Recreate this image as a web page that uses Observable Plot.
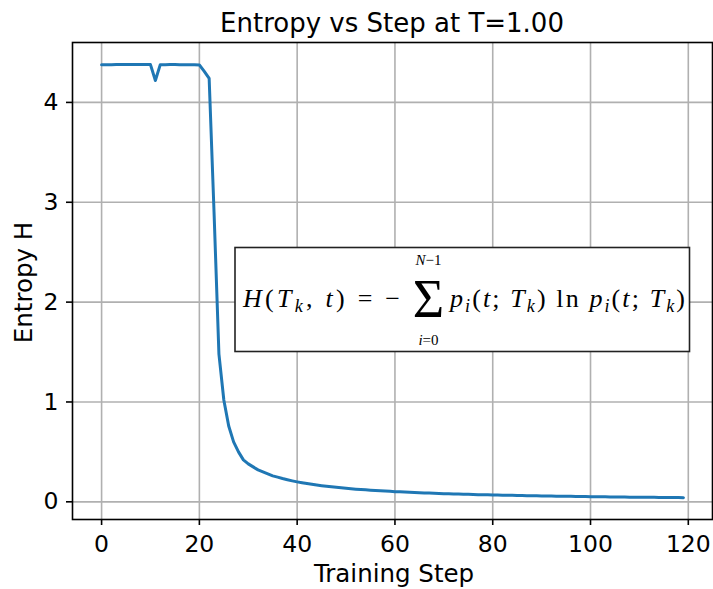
<!DOCTYPE html>
<html>
<head>
<meta charset="utf-8">
<script src="https://cdn.jsdelivr.net/npm/d3@7"></script>
<script src="https://cdn.jsdelivr.net/npm/@observablehq/plot@0.6"></script>
<style>
  html, body { margin: 0; padding: 0; background: white; }
  svg { display: block; }
</style>
</head>
<body>
<script>
// ---- data ----
const steps = d3.range(0, 120);
const entropy = [
  4.378, 4.378, 4.378, 4.379, 4.379, 4.379, 4.380, 4.379, 4.379, 4.379,
  4.379, 4.220, 4.378, 4.378, 4.379, 4.379, 4.378, 4.378, 4.378, 4.378,
  4.375, 4.310, 4.240, 2.900, 1.480, 1.020, 0.760, 0.600, 0.500, 0.420,
  0.380, 0.350, 0.320, 0.300, 0.280, 0.260, 0.247, 0.233, 0.221, 0.210,
  0.200, 0.191, 0.183, 0.175, 0.168, 0.162, 0.156, 0.150, 0.145, 0.140,
  0.135, 0.131, 0.127, 0.124, 0.120, 0.117, 0.114, 0.111, 0.108, 0.105,
  0.102, 0.100, 0.098, 0.095, 0.093, 0.091, 0.089, 0.088, 0.086, 0.084,
  0.082, 0.081, 0.079, 0.078, 0.076, 0.075, 0.074, 0.072, 0.071, 0.070,
  0.069, 0.068, 0.067, 0.066, 0.065, 0.064, 0.063, 0.062, 0.061, 0.060,
  0.059, 0.058, 0.058, 0.057, 0.056, 0.055, 0.055, 0.054, 0.053, 0.053,
  0.052, 0.051, 0.051, 0.050, 0.049, 0.049, 0.048, 0.048, 0.047, 0.047,
  0.046, 0.046, 0.045, 0.045, 0.044, 0.044, 0.043, 0.043, 0.043, 0.042
];
const xTicks = [0, 20, 40, 60, 80, 100, 120];
const yTicks = [0, 1, 2, 3, 4];
const titleText = "Entropy vs Step at T=1.00";
const xLabel = "Training Step";
const yLabel = "Entropy H";

// ---- annotations (titles + formula box) ----
function labelsMark(index, scales, values, dims) {
  const g = d3.create("svg:g")
    .attr("font-family", "DejaVu Sans")
    .attr("fill", "black");
  const cx = (dims.marginLeft + dims.width - dims.marginRight) / 2;
  const cy = (dims.marginTop + dims.height - dims.marginBottom) / 2;
  g.append("text").attr("x", cx).attr("y", 32).attr("text-anchor", "middle")
    .attr("font-size", 26).text(titleText);
  g.append("text").attr("x", cx + 2).attr("y", 581.5).attr("text-anchor", "middle")
    .attr("font-size", 24.5).text(xLabel);
  g.append("text").attr("transform", `translate(32,${cy + 2}) rotate(-90)`)
    .attr("text-anchor", "middle").attr("font-size", 24.5).text(yLabel);
  return g.node();
}

function formulaMark(index, scales, values, dims) {
  const g = d3.create("svg:g").attr("font-family", "Liberation Serif")
    .attr("fill", "black").attr("text-anchor", "start");
  g.append("rect").attr("x", 235).attr("y", 247.5).attr("width", 454.5).attr("height", 104)
    .attr("fill", "white").attr("stroke", "#222").attr("stroke-width", 1.6);
  const base = 307;
  const fs = 26, sub = 18, sh = 5;
  // left part
  const a = g.append("text").attr("x", 243).attr("y", base).attr("font-size", fs)
    .attr("text-anchor", "start")
    .attr("textLength", 157).attr("lengthAdjust", "spacing");
  a.append("tspan").attr("font-style", "italic").text("H");
  a.append("tspan").text("(");
  a.append("tspan").attr("font-style", "italic").text("T");
  a.append("tspan").attr("font-style", "italic").attr("font-size", sub).attr("dy", sh).text("k");
  a.append("tspan").attr("dy", -sh).text(", ");
  a.append("tspan").attr("font-style", "italic").text("t");
  a.append("tspan").text(") = −");
  // sum sign with limits
  g.append("text").attr("x", 428.5).attr("y", 317).attr("text-anchor", "middle")
    .attr("font-size", 54).text("Σ");
  const up = g.append("text").attr("x", 428.5).attr("y", 265).attr("text-anchor", "middle").attr("font-size", 15);
  up.append("tspan").attr("font-style", "italic").text("N");
  up.append("tspan").text("−1");
  const lo = g.append("text").attr("x", 428.5).attr("y", 345).attr("text-anchor", "middle").attr("font-size", 15);
  lo.append("tspan").attr("font-style", "italic").text("i");
  lo.append("tspan").text("=0");
  // right part
  const b = g.append("text").attr("x", 450).attr("y", base).attr("font-size", fs)
    .attr("text-anchor", "start")
    .attr("textLength", 235).attr("lengthAdjust", "spacing");
  const pterm = () => {
    b.append("tspan").attr("font-style", "italic").text("p");
    b.append("tspan").attr("font-style", "italic").attr("font-size", sub).attr("dy", sh).text("i");
    b.append("tspan").attr("dy", -sh).text("(");
    b.append("tspan").attr("font-style", "italic").text("t");
    b.append("tspan").text("; ");
    b.append("tspan").attr("font-style", "italic").text("T");
    b.append("tspan").attr("font-style", "italic").attr("font-size", sub).attr("dy", sh).text("k");
    b.append("tspan").attr("dy", -sh).text(")");
  };
  pterm();
  b.append("tspan").text(" ln ");
  pterm();
  return g.node();
}

const chart = Plot.plot({
  width: 713,
  height: 589,
  marginLeft: 72,
  marginRight: 1,
  marginTop: 42,
  marginBottom: 70,
  style: { fontFamily: "DejaVu Sans", fontSize: "23.5px", background: "white", color: "black" },
  x: { domain: [-5.95, 124.95], label: null },
  y: { domain: [-0.177, 4.6], label: null },
  marks: [
    Plot.gridX(xTicks, { stroke: "#b0b0b0", strokeOpacity: 1, strokeWidth: 1.6 }),
    Plot.gridY(yTicks, { stroke: "#b0b0b0", strokeOpacity: 1, strokeWidth: 1.6 }),
    Plot.axisX(xTicks, { tickSize: 6, tickPadding: 10, strokeWidth: 1.6, fontSize: 23.5, tickFormat: "d", label: null }),
    Plot.axisY(yTicks, { tickSize: 6, tickPadding: 8, strokeWidth: 1.6, fontSize: 23.5, tickFormat: "d", label: null }),
    Plot.lineY(entropy, { x: steps, y: entropy, stroke: "#1f77b4", strokeWidth: 3 }),
    Plot.frame({ stroke: "black", strokeWidth: 1.6 }),
    formulaMark,
    labelsMark
  ]
});
document.body.appendChild(chart);
</script>
</body>
</html>
